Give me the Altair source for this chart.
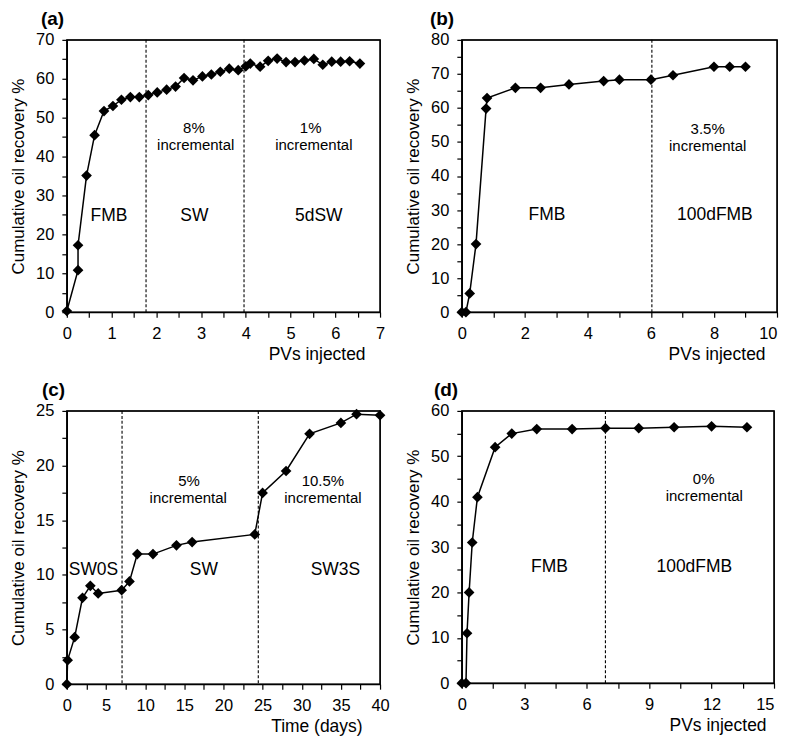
import altair as alt
import pandas as pd
import numpy as np

FONT = "Liberation Sans"

# ---------------- data ----------------
# (a)
a_x = [0, 0.25, 0.25, 0.44, 0.62, 0.83, 1.03, 1.22, 1.42, 1.62, 1.82, 2.02, 2.23, 2.43,
       2.62, 2.82, 3.03, 3.23, 3.43, 3.63, 3.83, 4.0, 4.1, 4.32, 4.5, 4.7, 4.9, 5.1,
       5.31, 5.52, 5.72, 5.92, 6.12, 6.32, 6.55]
a_y = [0.3, 10.8, 17.2, 35.1, 45.5, 51.7, 53.0, 54.6, 55.3, 55.3, 55.8, 56.5, 57.2, 58.0,
       60.2, 59.6, 60.6, 61.1, 61.8, 62.6, 62.2, 63.2, 63.9, 63.1, 64.6, 65.2, 64.3, 64.3,
       64.7, 65.1, 63.6, 64.4, 64.4, 64.5, 63.9]
a_div = [1.77, 3.96]
a_regions = ["FMB", "SW", "5dSW"]
a_region_x = [0.94, 2.85, 5.63]
a_region_y = [24.8, 24.8, 24.8]
a_notes = ["8%", "incremental", "1%", "incremental"]
a_note_x = [2.84, 2.88, 5.45, 5.52]
a_note_y = [47.3, 42.9, 47.3, 42.9]

# (b)
b_x = [0, 0.13, 0.25, 0.45, 0.77, 0.8, 1.7, 2.5, 3.4, 4.5, 5.0, 6.0, 6.7, 8.0, 8.5, 9.0]
b_y = [0, 0, 5.5, 20, 59.8, 62.9, 65.9, 65.9, 66.9, 67.9, 68.3, 68.3, 69.6, 72.1, 72.1, 72.1]
b_div = [6.03]
b_regions = ["FMB", "100dFMB"]
b_region_x = [2.70, 8.03]
b_region_y = [28.5, 28.5]
b_notes = ["3.5%", "incremental"]
b_note_x = [7.80, 7.80]
b_note_y = [53.9, 48.8]

# (c)
c_x = [0, 0.1, 1, 2, 3, 4, 7, 8, 9, 11, 14, 16, 24, 25, 28, 31, 35, 37, 40]
c_y = [0, 2.2, 4.3, 7.9, 9.0, 8.3, 8.6, 9.4, 11.9, 11.9, 12.7, 13.0, 13.7, 17.5, 19.5,
       22.9, 23.9, 24.7, 24.6]
c_div = [7.05, 24.45]
c_regions = ["SW0S", "SW", "SW3S"]
c_region_x = [3.4, 17.5, 34.3]
c_region_y = [10.4, 10.4, 10.4]
c_notes = ["5%", "incremental", "10.5%", "incremental"]
c_note_x = [15.6, 15.5, 32.7, 32.7]
c_note_y = [18.6, 17.0, 18.6, 17.0]

# (d)
d_x = [0, 0.2, 0.25, 0.35, 0.5, 0.75, 1.6, 2.4, 3.6, 5.3, 6.9, 8.5, 10.2, 12.0, 13.7]
d_y = [0, 0, 11, 20, 31, 41, 52, 55, 56, 56, 56.2, 56.2, 56.4, 56.6, 56.4]
d_div = [6.9]
d_regions = ["FMB", "100dFMB"]
d_region_x = [4.21, 11.17]
d_region_y = [25.5, 25.5]
d_notes = ["0%", "incremental"]
d_note_x = [11.62, 11.65]
d_note_y = [45.0, 41.3]

# axis ticks
a_xticks = list(np.arange(0, 7.01, 0.5)); a_yticks = list(range(0, 71, 5))
b_xticks = list(range(0, 11, 1)); b_yticks = list(range(0, 81, 5))
c_xticks = list(np.arange(0, 40.01, 2.5)); c_yticks = list(np.arange(0, 25.01, 2.5))
d_xticks = list(np.arange(0, 15.01, 1.5)); d_yticks = list(range(0, 61, 5))

YTITLE = "Cumulative oil recovery %"


def label_expr(step):
    return (f"abs(datum.value/{step} - round(datum.value/{step})) < 1e-6 ? "
            f"format(datum.value, 'd') : ''")


def panel(x, y, divs, regions, rx, ry, notes, nx, ny, xdom, ydom, xticks, xlab,
          yticks, ylab, w, h, xtitle, xtitle_off, letter, letter_dx, flush_last):
    xs = alt.Scale(domain=xdom, nice=False, zero=False)
    ys = alt.Scale(domain=ydom, nice=False, zero=False)
    xalign = "center"
    if flush_last:
        xalign = {"condition": {"test": f"datum.value >= {xdom[1]}", "value": "right"},
                  "value": "center"}
    xaxis = alt.Axis(values=[float(v) for v in xticks], labelExpr=label_expr(xlab),
                     title=xtitle, titleX=w - xtitle_off, titleY=47,
                     titleAlign="right", titleBaseline="alphabetic",
                     titleFontSize=17.5, labelPadding=8, labelOverlap=False,
                     labelFlush=False, labelAlign=xalign, grid=False)
    yaxis = alt.Axis(values=[float(v) for v in yticks], labelExpr=label_expr(ylab),
                     title=YTITLE, titleFontSize=17, titlePadding=8, labelPadding=8,
                     labelOverlap=False, labelFlush=False, grid=False)
    X = alt.X("x:Q", scale=xs, axis=xaxis, title=xtitle)
    Y = alt.Y("y:Q", scale=ys, axis=yaxis, title=YTITLE)
    df = pd.DataFrame({"x": x, "y": y, "i": list(range(len(x)))})
    frame = alt.Chart(pd.DataFrame({"x": [xdom[0]], "x2": [xdom[1]],
                                    "y": [ydom[0]], "y2": [ydom[1]]})).mark_rect(
        fillOpacity=0, stroke="black", strokeWidth=1.3).encode(
        x=X, x2="x2:Q", y=Y, y2="y2:Q")
    line = alt.Chart(df).mark_line(color="black", strokeWidth=1.5).encode(
        x=X, y=Y, order="i:Q")
    pts = alt.Chart(df).mark_point(shape="diamond", filled=True, size=115,
                                   color="black", opacity=1, strokeWidth=0).encode(x=X, y=Y)
    rules = alt.Chart(pd.DataFrame({"x": divs})).mark_rule(
        color="black", strokeDash=[3, 2], strokeWidth=1.1).encode(x=X)
    reg = alt.Chart(pd.DataFrame({"x": rx, "y": ry, "t": regions})).mark_text(
        font=FONT, fontSize=17.5, color="black", baseline="middle").encode(
        x=X, y=Y, text="t:N")
    nts = alt.Chart(pd.DataFrame({"x": nx, "y": ny, "t": notes})).mark_text(
        font=FONT, fontSize=15, color="black", baseline="middle").encode(
        x=X, y=Y, text="t:N")
    return alt.layer(frame, line, pts, rules, reg, nts).properties(
        width=w, height=h,
        title=alt.TitleParams(text=letter, anchor="start", frame="group", dx=letter_dx,
                              fontSize=19, fontWeight="bold", font=FONT, color="black",
                              offset=3),
    )


pa = panel(a_x, a_y, a_div, a_regions, a_region_x, a_region_y, a_notes, a_note_x, a_note_y,
           [0, 7], [0, 70], a_xticks, 1, a_yticks, 10, 314, 273, "PVs injected", 15, "(a)", -26,
           False)
pb = panel(b_x, b_y, b_div, b_regions, b_region_x, b_region_y, b_notes, b_note_x, b_note_y,
           [0, 10], [0, 80], b_xticks, 2, b_yticks, 10, 316, 273, "PVs injected", 12, "(b)", -32,
           True)
pc = panel(c_x, c_y, c_div, c_regions, c_region_x, c_region_y, c_notes, c_note_x, c_note_y,
           [0, 40], [0, 25], c_xticks, 5, c_yticks, 5, 314, 274, "Time (days)", 18, "(c)", -25,
           False)
pd_ = panel(d_x, d_y, d_div, d_regions, d_region_x, d_region_y, d_notes, d_note_x, d_note_y,
            [0, 15], [0, 60], d_xticks, 3, d_yticks, 10, 313, 273, "PVs injected", 8, "(d)", -28,
            True)

chart = alt.concat(pa, pb, pc, pd_, columns=2, spacing={"row": 99, "column": 82},
                   bounds="flush").properties(padding=0, background="white").configure_view(
    stroke="black", strokeWidth=1.3
).configure_axis(
    domainColor="black", domainWidth=1.3, tickColor="black", tickWidth=1.2, tickSize=5,
    labelColor="black", titleColor="black", grid=False, labelFont=FONT, titleFont=FONT,
    labelFontSize=16.5, titleFontWeight="normal", labelFlush=False, labelOverlap=False,
)

chart.save("out.html", embed_options={"renderer": "svg", "actions": False})
